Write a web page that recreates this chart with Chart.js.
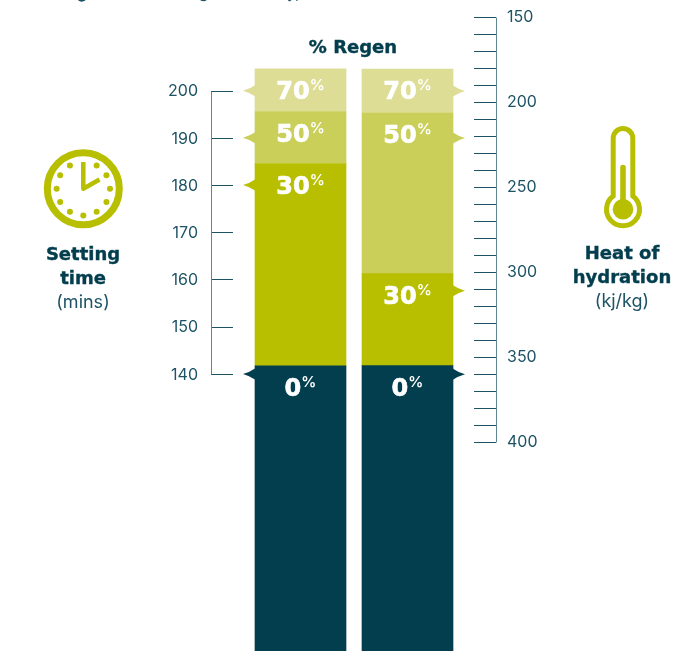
<!DOCTYPE html>
<html>
<head>
<meta charset="utf-8">
<title>Setting time and heat of hydration</title>
<script src="https://cdn.jsdelivr.net/npm/chart.js@4"></script>
<style>
  html, body { margin: 0; padding: 0; background: #fff; overflow: hidden; }
  #wrap { position: relative; width: 693px; height: 651px; overflow: hidden; }
  canvas { position: absolute; left: 0; top: 0; }
  .icon { position: absolute; left: 0; top: 0; }
  .cap { position: absolute; width: 140px; text-align: center; color: #1d5364; font-family: "Inter", sans-serif; font-size: 18px; line-height: 24px; }
  .cap b { display: block; color: #033e4e; font-family: "DejaVu Sans", sans-serif; font-size: 18px; font-weight: 700; -webkit-text-stroke: 0.4px #033e4e; }
  #regen { position: absolute; left: 253px; top: 36px; width: 200px; text-align: center; color: #033e4e; font-family: "DejaVu Sans", sans-serif; font-size: 18px; font-weight: 700; line-height: 22px; -webkit-text-stroke: 0.4px #033e4e; }
  .cut { position: absolute; top: -17px; color: #1d5364; font-family: "Inter", sans-serif; font-size: 16px; line-height: 18px; }
</style>
</head>
<body>
<div id="wrap">
  <canvas id="chart" width="693" height="651"></canvas>
  <svg class="icon" id="icons" width="693" height="651"></svg>
  <div id="regen">% Regen</div>
  <div class="cap" style="left:13px;top:242px"><b>Setting</b><b>time</b>(mins)</div>
  <div class="cap" style="left:552px;top:241px"><b>Heat of</b><b>hydration</b>(kj/kg)</div>
  <span class="cut" style="left:77px;font-weight:700">g</span>
  <span class="cut" style="left:193px">(g</span>
  <span class="cut" style="left:287px">y,</span>
</div>
<script>
// one bar per property, each read against its own axis
const categories = ["Setting time", "Heat of hydration"];
const regenLevels = ["0", "30", "50", "70"];
const regenColors = ["#033e4e", "#b7bf00", "#c9cf58", "#dddd96"];

// top edge of each segment, in axis units
const settingTops = [141.7, 184.5, 195.5, 204.6];
const heatTops = [354.9, 300.8, 206.3, 180.4];

// where the little pointers land on each axis
const settingMarkers = [140, 180, 190, 200];
const heatMarkers = [360, 310.8, 221, 193.4];

const settingTicks = [140, 150, 160, 170, 180, 190, 200];
const heatTicks = [150, 160, 170, 180, 190, 200, 210, 220, 230, 240, 250, 260, 270, 280, 290, 300, 310, 320, 330, 340, 350, 360, 370, 380, 390, 400];

const settingRange = [81.3, 219.2];
const heatRange = [139.8, 522.8];

const inkColor = "#1d5364";
const axisColor = "#5f8793";

function ranges(tops, bottom) {
  return tops.map((top, i) => [i === 0 ? bottom : tops[i - 1], top]);
}

function barDatasets(tops, bottom, index, axisId, markers) {
  return ranges(tops, bottom).map((range, i) => ({
    label: regenLevels[i] + "%",
    data: index === 0 ? [range, null] : [null, range],
    backgroundColor: regenColors[i],
    yAxisID: axisId,
    grouped: false,
    barThickness: 91,
    regen: regenLevels[i],
    marker: markers[i],
    side: index === 0 ? -1 : 1
  }));
}

// axis lines and ticks sit away from the plot area, so draw them here
const axisPlugin = {
  id: "axisLines",
  afterDraw(chart) {
    const ctx = chart.ctx;
    const drawAxis = (scale, ticks, x, tickX) => {
      const snap = p => Math.round(p) + 0.5;
      ctx.strokeStyle = inkColor;
      ctx.lineWidth = 1;
      ticks.forEach(t => {
        const y = snap(scale.getPixelForValue(t));
        ctx.beginPath();
        ctx.moveTo(x, y);
        ctx.lineTo(tickX, y);
        ctx.stroke();
      });
      ctx.strokeStyle = axisColor;
      ctx.beginPath();
      ctx.moveTo(x + 0.5, snap(scale.getPixelForValue(ticks[0])));
      ctx.lineTo(x + 0.5, snap(scale.getPixelForValue(ticks[ticks.length - 1])));
      ctx.stroke();
    };
    drawAxis(chart.scales.ySetting, settingTicks, 211, 233);
    drawAxis(chart.scales.yHeat, heatTicks, 496, 474);
  }
};

// pointers and the white labels inside the segments
const labelPlugin = {
  id: "segmentLabels",
  afterDatasetsDraw(chart) {
    const ctx = chart.ctx;
    chart.data.datasets.forEach((ds, i) => {
      const bar = chart.getDatasetMeta(i).data[ds.side < 0 ? 0 : 1];
      const scale = chart.scales[ds.yAxisID];
      const my = scale.getPixelForValue(ds.marker);
      const edge = bar.x + ds.side * 45.5;
      ctx.fillStyle = ds.backgroundColor;
      ctx.beginPath();
      ctx.moveTo(edge, my - 5.5);
      ctx.quadraticCurveTo(edge + ds.side * 5, my - 2, edge + ds.side * 12, my);
      ctx.quadraticCurveTo(edge + ds.side * 5, my + 2, edge, my + 5.5);
      ctx.closePath();
      ctx.fill();

      const num = ds.regen;
      // the right axis runs downwards, so bar.y is not always the top edge
      const cy = Math.min(bar.y, bar.base) + 21;
      ctx.fillStyle = "#fff";
      ctx.strokeStyle = "#fff";
      ctx.lineWidth = 0.7;
      ctx.textBaseline = "alphabetic";
      ctx.textAlign = "left";
      ctx.font = "700 24px 'DejaVu Sans'";
      const numW = ctx.measureText(num).width;
      ctx.font = "600 15px Inter";
      const pctW = ctx.measureText("%").width;
      const left = bar.x - (numW + pctW) / 2;
      ctx.font = "700 24px 'DejaVu Sans'";
      ctx.fillText(num, left, cy + 9);
      ctx.strokeText(num, left, cy + 9);
      ctx.font = "600 15px Inter";
      ctx.fillText("%", left + numW, cy + 0);
    });
  }
};

new Chart(document.getElementById("chart"), {
  type: "bar",
  data: {
    labels: categories,
    datasets: [
      ...barDatasets(settingTops, settingRange[0], 0, "ySetting", settingMarkers),
      ...barDatasets(heatTops, heatRange[1], 1, "yHeat", heatMarkers)
    ]
  },
  options: {
    responsive: false,
    animation: false,
    layout: { padding: 0 },
    plugins: { legend: { display: false }, tooltip: { enabled: false } },
    scales: {
      x: { display: false },
      ySetting: {
        position: "left",
        min: settingRange[0],
        max: settingRange[1],
        grid: { display: false },
        border: { display: false },
        afterBuildTicks: s => { s.ticks = settingTicks.map(v => ({ value: v })); },
        afterFit: s => { s.width = 247; s.paddingTop = 0; s.paddingBottom = 0; },
        ticks: { padding: 41, labelOffset: 1, color: inkColor, autoSkip: false, font: { family: "Inter", size: 16 } }
      },
      yHeat: {
        position: "right",
        reverse: true,
        min: heatRange[0],
        max: heatRange[1],
        grid: { display: false },
        border: { display: false },
        afterBuildTicks: s => { s.ticks = heatTicks.map(v => ({ value: v })); },
        afterFit: s => { s.width = 232; s.paddingTop = 0; s.paddingBottom = 0; },
        ticks: {
          padding: 38,
          color: inkColor,
          autoSkip: false,
          font: { family: "Inter", size: 16 },
          callback: v => (v % 50 === 0 ? String(v) : "")
        }
      }
    }
  },
  plugins: [axisPlugin, labelPlugin]
});

// clock and thermometer icons
const lime = "#b7bf00";
let dots = "";
for (let h = 1; h < 12; h++) {
  const a = h * Math.PI / 6;
  dots += `<circle cx="${83.3 + 26.7 * Math.sin(a)}" cy="${188.7 - 26.7 * Math.cos(a)}" r="3" fill="${lime}"/>`;
}
document.getElementById("icons").innerHTML = `
  <circle cx="83.3" cy="188.7" r="36" fill="none" stroke="${lime}" stroke-width="7"/>
  ${dots}
  <path d="M83.3 162 V188.7 L99.5 179.5" fill="none" stroke="${lime}" stroke-width="4.5" stroke-linejoin="round"/>
  <path d="M613.2 196 V138.3 a9.8 9.8 0 0 1 19.6 0 V196 A16.5 16.5 0 1 1 613.2 196 Z" fill="none" stroke="${lime}" stroke-width="5"/>
  <circle cx="623" cy="209.3" r="10.3" fill="${lime}"/>
  <path d="M623 167.5 V205" stroke="${lime}" stroke-width="5.6" stroke-linecap="round"/>`;
</script>
</body>
</html>
